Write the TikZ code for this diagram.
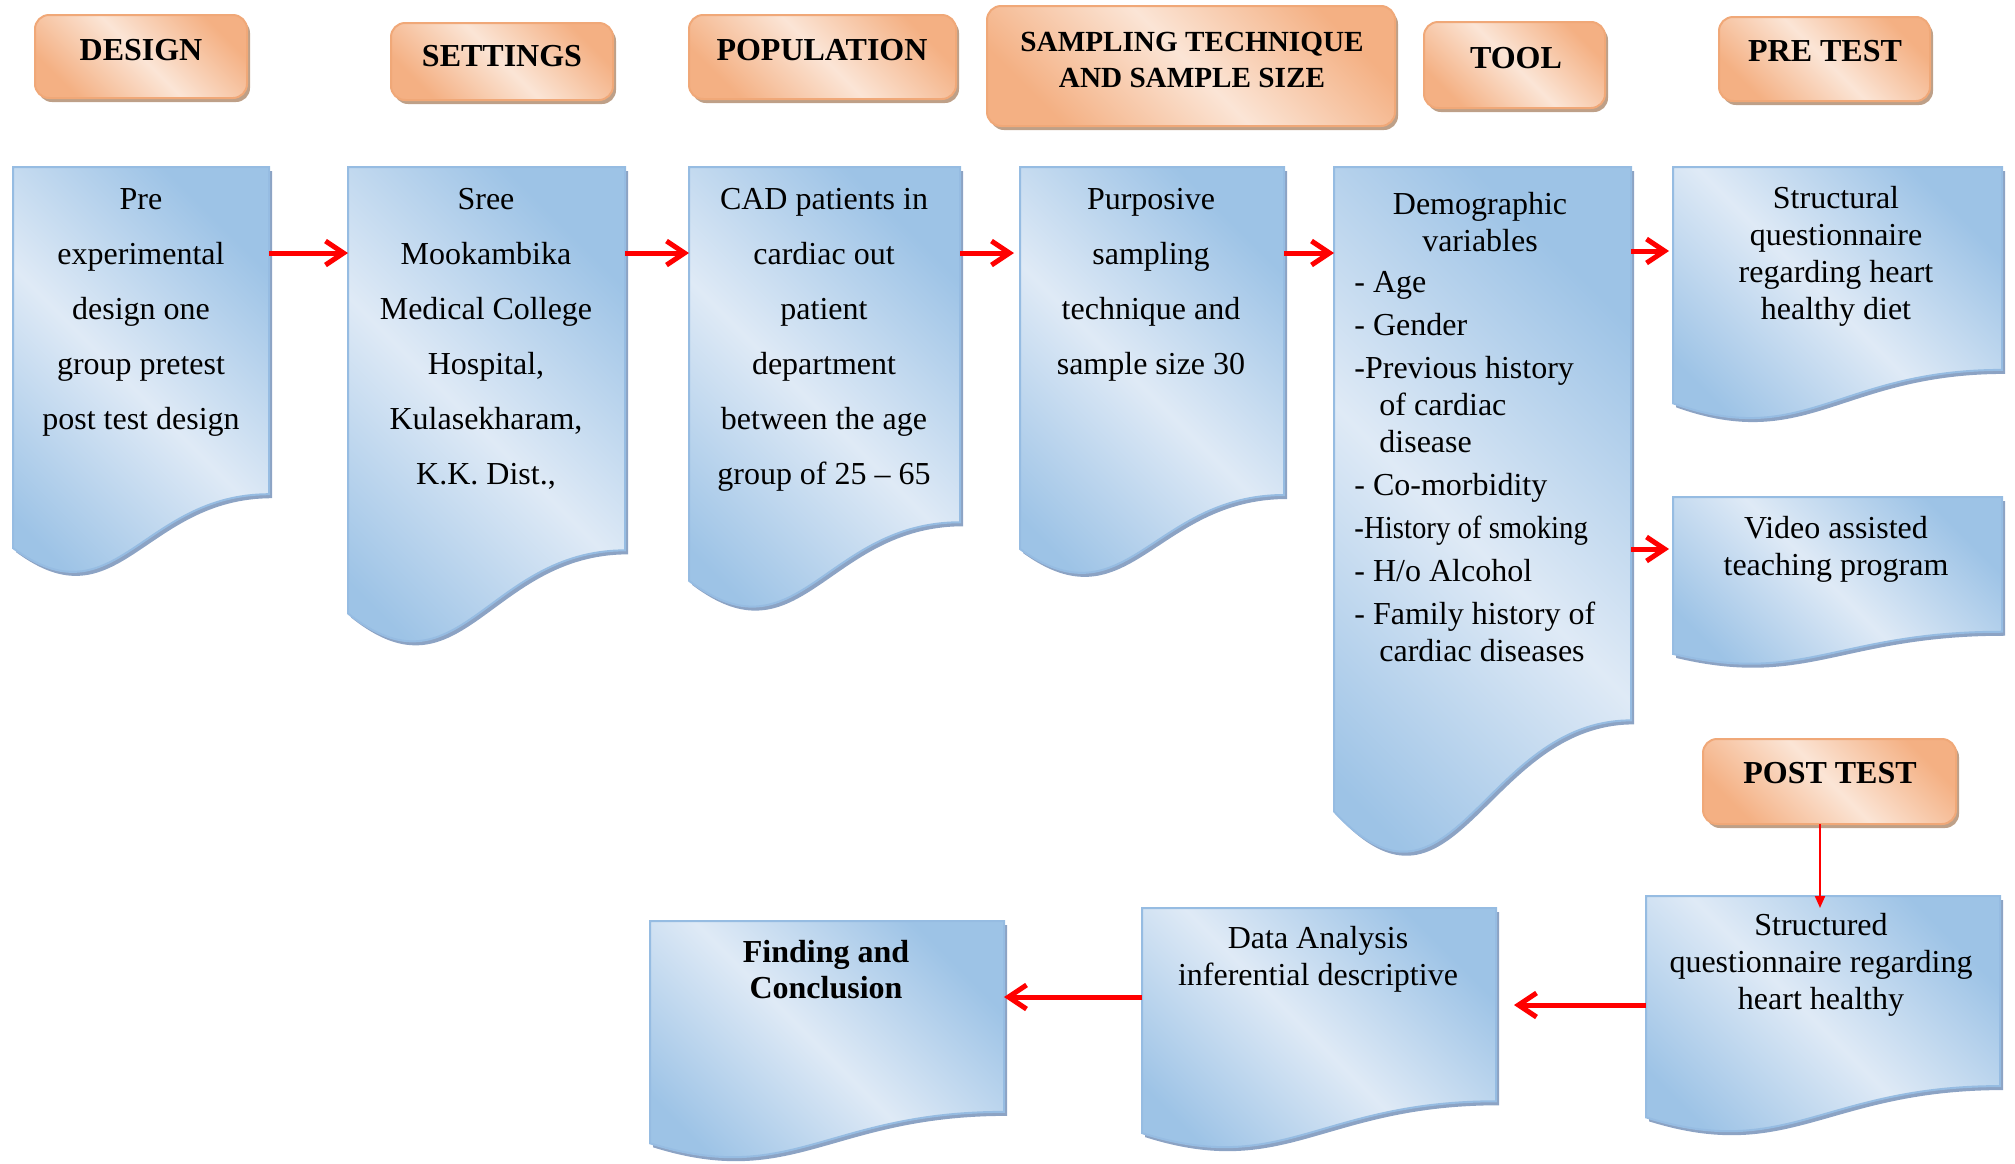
\documentclass[tikz,border=0pt]{standalone}
\usepackage{fontspec}
\usepackage{graphicx}
\setmainfont{Liberation Serif}
\usetikzlibrary{arrows.meta,calc}
\definecolor{docdark}{RGB}{157,195,230}
\definecolor{doclight}{RGB}{223,234,246}
\definecolor{docline}{RGB}{150,188,226}
\definecolor{docshadow}{RGB}{140,163,196}
\definecolor{ordark}{RGB}{244,176,131}
\definecolor{orlight}{RGB}{251,229,214}
\definecolor{orline}{RGB}{240,168,120}
\definecolor{orshadow}{RGB}{190,160,136}
\definecolor{arrred}{RGB}{255,0,0}
% document (wavy bottom) outline: x1, y1, x2, H
\newcommand\docpath[4]{(#1,#2) -- (#3,#2) -- (#3,{#2+0.802*#4}) .. controls ({#1+0.5*(#3-#1)},{#2+0.802*#4}) and ({#1+0.4*(#3-#1)},{#2+1.12*#4}) .. (#1,{#2+0.934*#4}) -- cycle}
\newcommand\docbox[5]{%
  \fill[docshadow, shift={(3,4)}] \docpath{#2}{#3}{#4}{#5};
  \path[docfill] \docpath{#2}{#3}{#4}{#5};
  \node[docnode, minimum width={(#4-#2)*0.5pt}, minimum height={0.802*#5*0.5pt}, anchor=north west] (#1) at (#2,#3) {};
}
\newcommand\hdrbox[5]{%
  \fill[orshadow, rounded corners=7pt] ({#2+3},{#3+4}) rectangle ({#4+3},{#5+4});
  \node[hdr, minimum width={(#4-#2)*0.5pt}, minimum height={(#5-#3)*0.5pt}, anchor=north west] (#1) at (#2,#3) {};
}
\begin{document}
\begin{tikzpicture}[x=0.5pt,y=-0.5pt,
  docfill/.style={draw=docline, line width=1pt, top color=docdark, bottom color=docdark, middle color=doclight, shading angle=-45},
  docnode/.style={draw=none, inner sep=0pt, outer sep=0pt},
  hdr/.style={draw=orline, line width=1pt, rounded corners=7pt, inner sep=0pt, outer sep=0pt, top color=ordark, bottom color=ordark, middle color=orlight, shading angle=-45},
  htext/.style={font=\bfseries\fontsize{16pt}{18pt}\selectfont, anchor=base, inner sep=0pt},
  body/.style={font=\fontsize{16pt}{27.5pt}\selectfont, align=center, anchor=base, inner sep=0pt},
  tight/.style={font=\fontsize{16pt}{18.5pt}\selectfont, align=center, anchor=base, inner sep=0pt},
  arr/.style={draw=arrred, line width=2.5pt, -{Straight Barb[length=9pt,width=12pt]}},
  thinarr/.style={draw=arrred, line width=1pt, -{Triangle[length=6pt,width=5pt]}}
]
\useasboundingbox (0,0) rectangle (2015,1163);

% header boxes
\hdrbox{hdesign}{35}{15}{247}{98}
\hdrbox{hsettings}{391}{23}{613}{100}
\hdrbox{hpop}{689}{15}{956}{99}
\hdrbox{hsamp}{987}{6}{1395}{126}
\hdrbox{htool}{1424}{22}{1605}{108}
\hdrbox{hpre}{1719}{17}{1930}{101}
\hdrbox{hpost}{1703}{739}{1956}{824}

% header texts (base anchor = baseline of last line)
\node[htext] (tdesign) at (141,60) {DESIGN};
\node[htext] (tsettings) at (502,66) {SETTINGS};
\node[htext] (tpop) at (822,60) {POPULATION};
\node[htext, font=\bfseries\fontsize{14.6pt}{18pt}\selectfont, align=center] (tsamp) at (1192,87) {SAMPLING TECHNIQUE\\AND SAMPLE SIZE};
\node[htext] (ttool) at (1516,68) {TOOL};
\node[htext] (tpre) at (1825,61) {PRE TEST};
\node[htext] (tpost) at (1830,783) {POST TEST};

% document boxes
\docbox{design}{13}{167}{269}{408}
\docbox{settings}{348}{167}{625}{478}
\docbox{population}{689}{167}{960}{443}
\docbox{sampling}{1020}{167}{1284}{409}
\docbox{tool}{1334}{167}{1631}{690}
\docbox{pretest}{1673}{167}{2002}{253}
\docbox{video}{1673}{497}{2002}{168}
\docbox{post}{1646}{896}{2000}{237}
\docbox{data}{1142}{908}{1496}{241}
\docbox{finding}{650}{921}{1004}{238}

% texts (base anchor = baseline of last line)
\node[body] (tx1) at (141,429) {Pre\\experimental\\design one\\group pretest\\post test design};
\node[body] (tx2) at (486,484) {Sree\\Mookambika\\Medical College\\Hospital,\\Kulasekharam,\\K.K. Dist.,};
\node[body] (tx3) at (824,484) {CAD patients in\\cardiac out\\patient\\department\\between the age\\group of 25 – 65};
\node[body] (tx4) at (1151,374) {Purposive\\sampling\\technique and\\sample size 30};
\node[tight] (tx5) at (1480,251) {Demographic\\variables};
\node[tight, align=left, anchor=base west] (tx5b) at (1354,661) {- Age\\[3pt]- Gender\\[3pt]-Previous history\\\hspace*{12.5pt}of cardiac\\\hspace*{12.5pt}disease\\[3pt]- Co-morbidity\\[3pt]\scalebox{0.9}[1]{-History of smoking}\\[3pt]- H/o Alcohol\\[3pt]- Family history of\\\hspace*{12.5pt}cardiac diseases};
\node[tight] (tx6) at (1836,319) {Structural\\questionnaire\\regarding heart\\healthy diet};
\node[tight] (tx7) at (1836,575) {Video assisted\\teaching program};
\node[tight] (tx8) at (1821,1009) {Structured\\questionnaire regarding\\heart healthy};
\node[tight] (tx9) at (1318,985) {Data Analysis\\inferential descriptive};
\node[tight, font=\bfseries\fontsize{16pt}{18pt}\selectfont] (tx10) at (826,998) {Finding and\\Conclusion};

% connectors
\coordinate (r1) at (0,253);
\coordinate (r2) at (0,251);
\coordinate (r3) at (0,549);
\coordinate (r4) at (0,1005);
\coordinate (r5) at (0,997);
\coordinate (ptip) at (1820,908);
\draw[arr] (design.east |- r1) -- (settings.west |- r1);
\draw[arr] (settings.east |- r1) -- (population.west |- r1);
\draw[arr] (population.east |- r1) -- ([xshift=-3pt]sampling.west |- r1);
\draw[arr] (sampling.east |- r1) -- (tool.west |- r1);
\draw[arr] (tool.east |- r2) -- ([xshift=-2pt]pretest.west |- r2);
\draw[arr] (tool.east |- r3) -- ([xshift=-2pt]video.west |- r3);
\draw[thinarr] (hpost.south -| ptip) -- (ptip);
\draw[arr, shorten >=9pt] (post.west |- r4) -- (data.east |- r4);
\draw[arr] (data.west |- r5) -- (finding.east |- r5);
\end{tikzpicture}
\end{document}
